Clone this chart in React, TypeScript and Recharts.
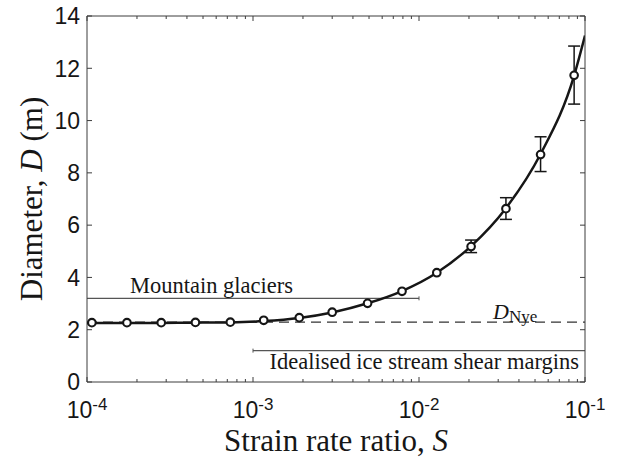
import React from "react";
import {
  ComposedChart,
  Line,
  Scatter,
  XAxis,
  YAxis,
  ReferenceLine,
  ErrorBar,
  Label,
} from "recharts";

// simulated points (S, D) with error bars
const strainRatio = [
  1.07e-4, 1.74e-4, 2.8e-4, 4.5e-4, 7.3e-4, 1.16e-3, 1.9e-3, 3.0e-3, 4.9e-3,
  7.9e-3, 1.28e-2, 2.06e-2, 3.34e-2, 5.4e-2, 8.6e-2,
];
const diameter = [
  2.27, 2.27, 2.27, 2.28, 2.29, 2.36, 2.46, 2.67, 3.01, 3.47, 4.18, 5.18, 6.63,
  8.7, 11.73,
];
const errorDown = [0, 0, 0, 0, 0, 0, 0, 0, 0, 0, 0, 0.23, 0.41, 0.65, 1.1];
const errorUp = [0, 0, 0, 0, 0, 0, 0, 0, 0, 0, 0, 0.25, 0.42, 0.68, 1.12];

// fitted curve
const curveStrain = [
  1e-4, 1.07e-4, 1.74e-4, 2.8e-4, 4.5e-4, 7.3e-4, 1.16e-3, 1.9e-3, 3.0e-3,
  4.9e-3, 7.9e-3, 1.28e-2, 2.06e-2, 3.34e-2, 5.4e-2, 8.6e-2, 1e-1,
];
const curveDiameter = [
  2.26, 2.26, 2.26, 2.26, 2.27, 2.28, 2.33, 2.45, 2.66, 3.01, 3.48, 4.18, 5.2,
  6.65, 8.72, 11.72, 13.25,
];

// reference ranges
const mountainRange = [1e-4, 1e-2];
const mountainD = 3.2;
const iceStreamRange = [1e-3, 1e-1];
const iceStreamD = 1.2;
const nyeRange = [1e-4, 1e-1];
const nyeD = 2.29;

const xDomain = [1e-4, 1e-1];
const decades = [1e-4, 1e-3, 1e-2];
const xTicks = [
  ...decades.flatMap((d) => [1, 2, 3, 4, 5, 6, 7, 8, 9].map((m) => d * m)),
  1e-1,
];
const yTicks = [0, 2, 4, 6, 8, 10, 12, 14];

const points = strainRatio.map((s, i) => ({
  s,
  d: diameter[i],
  err: [errorDown[i], errorUp[i]],
}));
const errorPoints = points.filter((p) => p.err[0] > 0 || p.err[1] > 0);
const curve = curveStrain.map((s, i) => ({ s, d: curveDiameter[i] }));

const AXIS = "#3c3c3c";
const INK = "#161616";
const REF = "#555555";
const SANS = "'Liberation Sans', Arial, sans-serif";
const SERIF = "'Liberation Serif', 'Times New Roman', serif";

const isMajor = (v: number) =>
  Math.abs(Math.log10(v) - Math.round(Math.log10(v))) < 1e-9;

const BottomTick = ({ x, y, payload }: any) => {
  const v = payload.value;
  const major = isMajor(v);
  return (
    <g>
      <line x1={x} x2={x} y1={y} y2={y - (major ? 5 : 3)} stroke={AXIS} />
      {major && (
        <text
          x={x}
          y={y + 36}
          textAnchor="middle"
          fontFamily={SANS}
          fontSize={23}
          fill={INK}
        >
          10
          <tspan dy={-8} fontSize={17}>
            {Math.round(Math.log10(v))}
          </tspan>
        </text>
      )}
    </g>
  );
};

const TopTick = ({ x, y, payload }: any) => (
  <line
    x1={x}
    x2={x}
    y1={y}
    y2={y + (isMajor(payload.value) ? 5 : 3)}
    stroke={AXIS}
  />
);

const LeftTick = ({ x, y, payload }: any) => (
  <g>
    <line x1={x} x2={x + 5} y1={y} y2={y} stroke={AXIS} />
    <text
      x={x - 7}
      y={y}
      dy="0.36em"
      textAnchor="end"
      fontFamily={SANS}
      fontSize={23}
      fill={INK}
    >
      {payload.value}
    </text>
  </g>
);

const RightTick = ({ x, y }: any) => (
  <line x1={x} x2={x - 5} y1={y} y2={y} stroke={AXIS} />
);

const Circle = ({ cx, cy }: any) => (
  <circle cx={cx} cy={cy} r={3.8} fill="#fff" stroke={INK} strokeWidth={2.1} />
);

export default function App() {
  return (
    <div
      style={{
        position: "absolute",
        left: 0,
        top: 0,
        width: 618,
        height: 463,
        background: "#fff",
      }}
    >
      <ComposedChart
        width={618}
        height={463}
        data={curve}
        margin={{ top: 0, right: 0, left: 0, bottom: 0 }}
      >
        <XAxis
          xAxisId="bottom"
          dataKey="s"
          type="number"
          scale="log"
          domain={xDomain}
          allowDataOverflow
          ticks={xTicks}
          interval={0}
          tick={<BottomTick />}
          tickLine={false}
          tickSize={0}
          tickMargin={0}
          height={81}
          stroke={AXIS}
        >
          <Label
            content={({ viewBox }: any) => (
              <text
                x={viewBox.x + viewBox.width / 2}
                y={viewBox.y + 69}
                textAnchor="middle"
                fontFamily={SERIF}
                fontSize={31}
                fill={INK}
              >
                {"Strain rate ratio, "}
                <tspan fontStyle="italic">S</tspan>
              </text>
            )}
          />
        </XAxis>
        <XAxis
          xAxisId="top"
          orientation="top"
          dataKey="s"
          type="number"
          scale="log"
          domain={xDomain}
          allowDataOverflow
          ticks={xTicks}
          interval={0}
          tick={<TopTick />}
          tickLine={false}
          tickSize={0}
          tickMargin={0}
          height={16}
          stroke={AXIS}
        />
        <YAxis
          yAxisId="left"
          type="number"
          domain={[0, 14]}
          allowDataOverflow
          ticks={yTicks}
          interval={0}
          tick={<LeftTick />}
          tickLine={false}
          tickSize={0}
          tickMargin={0}
          width={87}
          stroke={AXIS}
        >
          <Label
            content={({ viewBox }: any) => {
              const cx = viewBox.x + 42;
              const cy = viewBox.y + viewBox.height / 2;
              return (
                <text
                  x={cx}
                  y={cy}
                  transform={`rotate(-90 ${cx} ${cy})`}
                  textAnchor="middle"
                  fontFamily={SERIF}
                  fontSize={31}
                  fill={INK}
                >
                  {"Diameter, "}
                  <tspan fontStyle="italic">D</tspan>
                  {" (m)"}
                </text>
              );
            }}
          />
        </YAxis>
        <YAxis
          yAxisId="right"
          orientation="right"
          type="number"
          domain={[0, 14]}
          allowDataOverflow
          ticks={yTicks}
          interval={0}
          tick={<RightTick />}
          tickLine={false}
          tickSize={0}
          tickMargin={0}
          width={33}
          stroke={AXIS}
        />

        <ReferenceLine
          xAxisId="bottom"
          yAxisId="left"
          segment={[
            { x: nyeRange[0], y: nyeD },
            { x: nyeRange[1], y: nyeD },
          ]}
          stroke="#333"
          strokeWidth={1.4}
          strokeDasharray="10 6"
          label={({ viewBox }: any) => (
            <text
              x={viewBox.x + viewBox.width - 92}
              y={viewBox.y - 3.5}
              fontFamily={SERIF}
              fontSize={22}
              fill={INK}
            >
              <tspan fontStyle="italic">D</tspan>
              <tspan dy={3.5} fontSize={17}>
                Nye
              </tspan>
            </text>
          )}
        />
        <ReferenceLine
          xAxisId="bottom"
          yAxisId="left"
          segment={[
            { x: mountainRange[0], y: mountainD },
            { x: mountainRange[1], y: mountainD },
          ]}
          stroke={REF}
          strokeWidth={1.4}
          label={({ viewBox }: any) => (
            <g>
              <line
                x1={viewBox.x + viewBox.width}
                x2={viewBox.x + viewBox.width}
                y1={viewBox.y - 2}
                y2={viewBox.y + 2}
                stroke={REF}
              />
              <text
                x={viewBox.x + 43}
                y={viewBox.y - 5}
                fontFamily={SERIF}
                fontSize={22.5}
                fill={INK}
              >
                Mountain glaciers
              </text>
            </g>
          )}
        />
        <ReferenceLine
          xAxisId="bottom"
          yAxisId="left"
          segment={[
            { x: iceStreamRange[0], y: iceStreamD },
            { x: iceStreamRange[1], y: iceStreamD },
          ]}
          stroke={REF}
          strokeWidth={1.4}
          label={({ viewBox }: any) => (
            <g>
              <line
                x1={viewBox.x}
                x2={viewBox.x}
                y1={viewBox.y - 2}
                y2={viewBox.y + 2}
                stroke={REF}
              />
              <text
                x={viewBox.x + viewBox.width - 6}
                y={viewBox.y + 18.5}
                textAnchor="end"
                fontFamily={SERIF}
                fontSize={22.5}
                fill={INK}
              >
                Idealised ice stream shear margins
              </text>
            </g>
          )}
        />

        <Line
          xAxisId="bottom"
          yAxisId="left"
          dataKey="d"
          type="monotone"
          stroke={INK}
          strokeWidth={2.5}
          dot={false}
          activeDot={false}
          isAnimationActive={false}
        />
        <Scatter
          xAxisId="bottom"
          yAxisId="left"
          data={errorPoints}
          dataKey="d"
          shape={() => <g />}
          isAnimationActive={false}
        >
          <ErrorBar
            dataKey="err"
            direction="y"
            width={6}
            stroke={INK}
            strokeWidth={1.5}
            isAnimationActive={false}
          />
        </Scatter>
        <Scatter
          xAxisId="bottom"
          yAxisId="left"
          data={points}
          dataKey="d"
          shape={<Circle />}
          isAnimationActive={false}
        />
      </ComposedChart>
    </div>
  );
}
